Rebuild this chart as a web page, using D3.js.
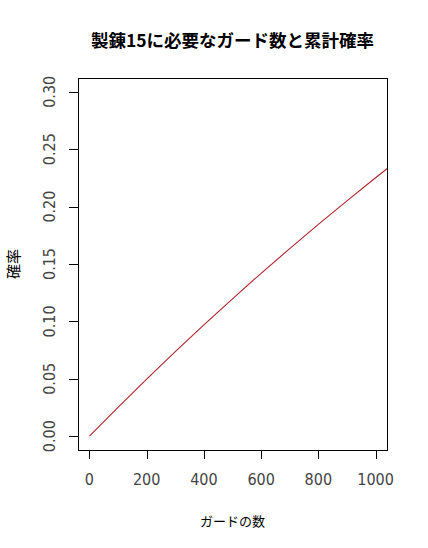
<!DOCTYPE html>
<html>
<head>
<meta charset="utf-8">
<script src="https://cdn.jsdelivr.net/npm/d3@7"></script>
<style>
  body { margin: 0; background: #fff; }
  svg { display: block; }
  .tick-label { font-family: "Liberation Sans Narrow", "DejaVu Sans Condensed", "Liberation Sans", sans-serif; font-size: 16px; fill: #444; }
  .jp { font-family: "Noto Sans CJK JP", sans-serif; fill: #000; }
</style>
</head>
<body>
<svg width="428" height="548"></svg>
<script>
// ガードの数 vs 累計確率
const guards = [0, 100, 200, 300, 400, 500, 600, 700, 800, 900, 1000, 1100]
const prob = [0, 0.0252, 0.0497, 0.0736, 0.0970, 0.1197, 0.1419, 0.1634, 0.1845, 0.2050, 0.2251, 0.2446]
const xTicks = [0, 200, 400, 600, 800, 1000]
const yTicks = [0, 0.05, 0.10, 0.15, 0.20, 0.25, 0.30]

const title = '製錬15に必要なガード数と累計確率'
const xTitle = 'ガードの数'
const yTitle = '確率'

const svg = d3.select('svg')
const plotL = 78, plotR = 387, plotT = 78, plotB = 450

const x = d3.scaleLinear().domain([-40, 1040]).range([plotL, plotR])
const y = d3.scaleLinear().domain([-0.012, 0.312]).range([plotB, plotT])

svg.append('defs').append('clipPath').attr('id', 'plot')
  .append('rect')
  .attr('x', plotL).attr('y', plotT)
  .attr('width', plotR - plotL).attr('height', plotB - plotT)

const line = d3.line()
  .x((d, i) => x(guards[i]))
  .y(d => y(d))

svg.append('path')
  .datum(prob)
  .attr('clip-path', 'url(#plot)')
  .attr('d', line)
  .attr('fill', 'none')
  .attr('stroke', '#b0232a')
  .attr('stroke-width', 1.1)

// box
svg.append('rect')
  .attr('x', plotL + 0.5).attr('y', plotT + 0.5)
  .attr('width', plotR - plotL).attr('height', plotB - plotT)
  .attr('fill', 'none')
  .attr('stroke', '#000')

// x axis
const xAxis = svg.append('g')
xAxis.selectAll('line')
  .data(xTicks)
  .enter()
  .append('line')
  .attr('x1', d => Math.round(x(d)) + 0.5)
  .attr('x2', d => Math.round(x(d)) + 0.5)
  .attr('y1', plotB)
  .attr('y2', plotB + 9)
  .attr('stroke', '#000')
xAxis.selectAll('text')
  .data(xTicks)
  .enter()
  .append('text')
  .attr('class', 'tick-label')
  .attr('x', d => x(d))
  .attr('y', 485)
  .attr('text-anchor', 'middle')
  .text(d => d)

// y axis
const yAxis = svg.append('g')
yAxis.selectAll('line')
  .data(yTicks)
  .enter()
  .append('line')
  .attr('x1', plotL - 9)
  .attr('x2', plotL)
  .attr('y1', d => Math.round(y(d)) + 0.5)
  .attr('y2', d => Math.round(y(d)) + 0.5)
  .attr('stroke', '#000')
yAxis.selectAll('text')
  .data(yTicks)
  .enter()
  .append('text')
  .attr('class', 'tick-label')
  .attr('transform', d => `translate(55,${y(d)}) rotate(-90)`)
  .attr('text-anchor', 'middle')
  .text(d => d3.format('.2f')(d))

// titles
svg.append('text')
  .attr('class', 'jp')
  .attr('x', (plotL + plotR) / 2)
  .attr('y', 47)
  .attr('text-anchor', 'middle')
  .attr('font-size', 17.5)
  .attr('font-weight', 'bold')
  .text(title)

svg.append('text')
  .attr('class', 'jp')
  .attr('x', (plotL + plotR) / 2)
  .attr('y', 526)
  .attr('text-anchor', 'middle')
  .attr('font-size', 13)
  .text(xTitle)

svg.append('text')
  .attr('class', 'jp')
  .attr('transform', `translate(19,${(plotT + plotB) / 2}) rotate(-90)`)
  .attr('text-anchor', 'middle')
  .attr('font-size', 15)
  .text(yTitle)
</script>
</body>
</html>
